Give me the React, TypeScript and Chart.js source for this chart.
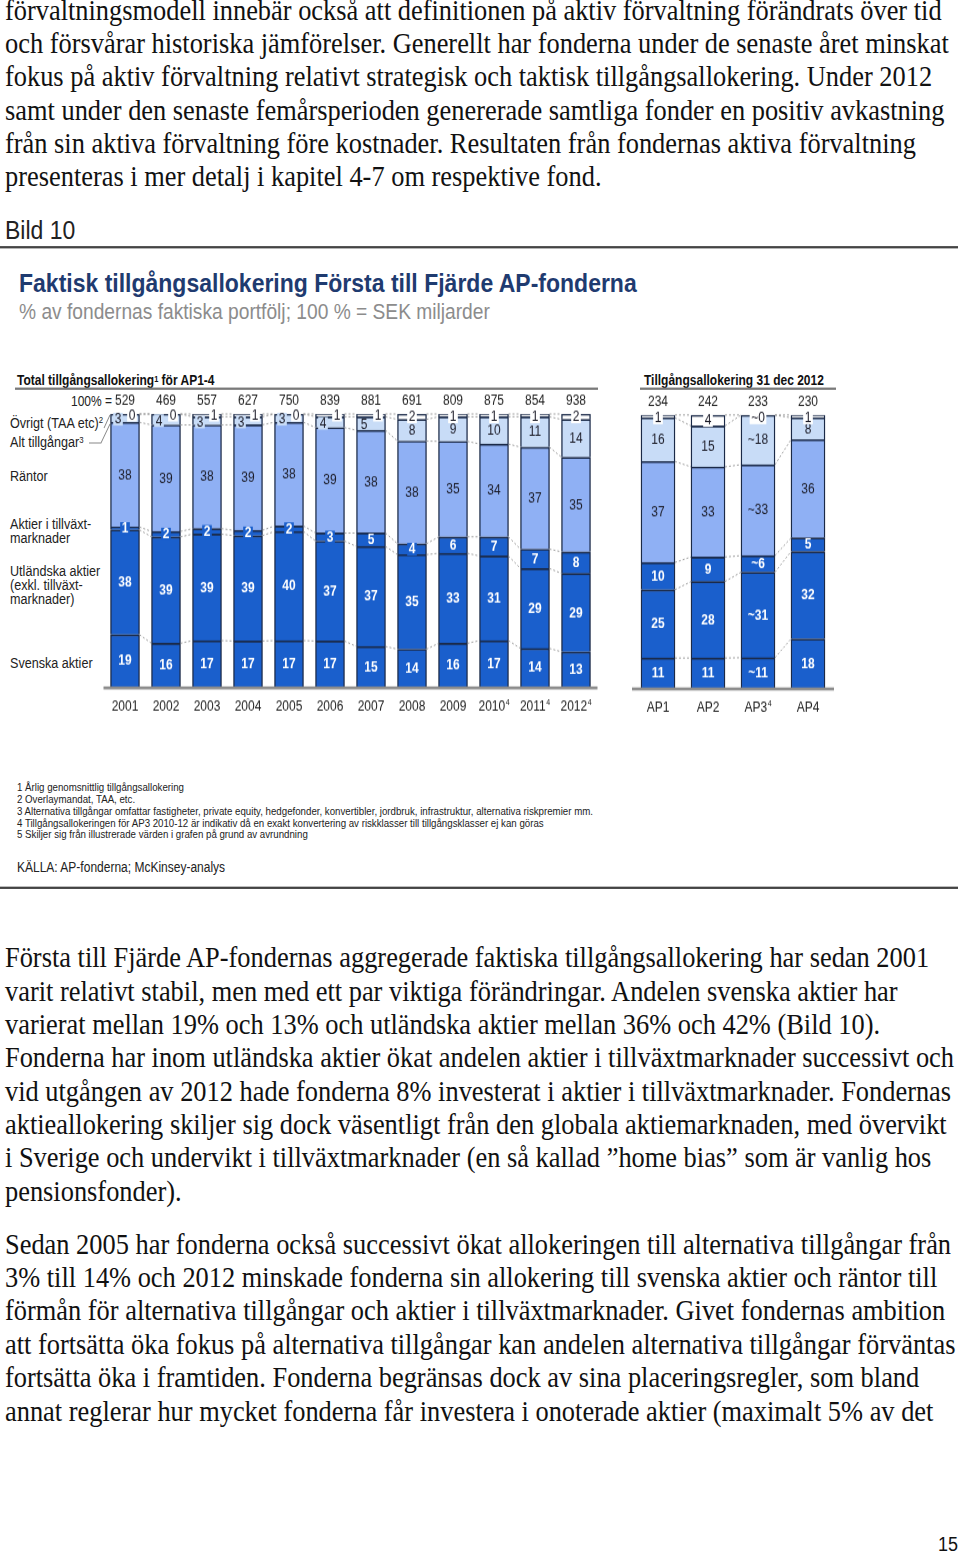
import React, { useEffect, useRef } from 'react';
import { Chart, registerables } from 'chart.js';
Chart.register(...registerables);

// ---------- data ----------
const years = ['2001', '2002', '2003', '2004', '2005', '2006', '2007', '2008', '2009', '2010', '2011', '2012'];
const yearSup = ['', '', '', '', '', '', '', '', '', '4', '4', '4'];
const yearTotals = [529, 469, 557, 627, 750, 839, 881, 691, 809, 875, 854, 938];
const svenska = [19, 16, 17, 17, 17, 17, 15, 14, 16, 17, 14, 13];
const utlandska = [38, 39, 39, 39, 40, 37, 37, 35, 33, 31, 29, 29];
const tillvaxt = [1, 2, 2, 2, 2, 3, 5, 4, 6, 7, 7, 8];
const rantor = [38, 39, 38, 39, 38, 39, 38, 38, 35, 34, 37, 35];
const altTillgangar = [3, 4, 3, 3, 3, 4, 5, 8, 9, 10, 11, 14];
const ovrigt = [0, 0, 1, 1, 0, 1, 1, 2, 1, 1, 1, 2];
const yearPrefix = ['', '', '', '', '', '', '', '', '', '', '', ''];

const funds = ['AP1', 'AP2', 'AP3', 'AP4'];
const fundSup = ['', '', '4', ''];
const fundTotals = [234, 242, 233, 230];
const fSvenska = [11, 11, 11, 18];
const fUtlandska = [25, 28, 31, 32];
const fTillvaxt = [10, 9, 6, 5];
const fRantor = [37, 33, 33, 36];
const fAlt = [16, 15, 18, 8];
const fOvrigt = [1, 4, 0, 1];
const fundPrefix = ['', '', '~', ''];

// ---------- text ----------
const para1 = [
  'förvaltningsmodell innebär också att definitionen på aktiv förvaltning förändrats över tid',
  'och försvårar historiska jämförelser. Generellt har fonderna under de senaste året minskat',
  'fokus på aktiv förvaltning relativt strategisk och taktisk tillgångsallokering. Under 2012',
  'samt under den senaste femårsperioden genererade samtliga fonder en positiv avkastning',
  'från sin aktiva förvaltning före kostnader. Resultaten från fondernas aktiva förvaltning',
  'presenteras i mer detalj i kapitel 4-7 om respektive fond.',
];
const para2 = [
  'Första till Fjärde AP-fondernas aggregerade faktiska tillgångsallokering har sedan 2001',
  'varit relativt stabil, men med ett par viktiga förändringar. Andelen svenska aktier har',
  'varierat mellan 19% och 13% och utländska aktier mellan 36% och 42% (Bild 10).',
  'Fonderna har inom utländska aktier ökat andelen aktier i tillväxtmarknader successivt och',
  'vid utgången av 2012 hade fonderna 8% investerat i aktier i tillväxtmarknader. Fondernas',
  'aktieallokering skiljer sig dock väsentligt från den globala aktiemarknaden, med övervikt',
  'i Sverige och undervikt i tillväxtmarknader (en så kallad ”home bias” som är vanlig hos',
  'pensionsfonder).',
];
const para3 = [
  'Sedan 2005 har fonderna också successivt ökat allokeringen till alternativa tillgångar från',
  '3% till 14% och 2012 minskade fonderna sin allokering till svenska aktier och räntor till',
  'förmån för alternativa tillgångar och aktier i tillväxtmarknader. Givet fondernas ambition',
  'att fortsätta öka fokus på alternativa tillgångar kan andelen alternativa tillgångar förväntas',
  'fortsätta öka i framtiden. Fonderna begränsas dock av sina placeringsregler, som bland',
  'annat reglerar hur mycket fonderna får investera i onoterade aktier (maximalt 5% av det',
];
const footnotes = [
  '1 Årlig genomsnittlig tillgångsallokering',
  '2 Overlaymandat, TAA, etc.',
  '3 Alternativa tillgångar omfattar fastigheter, private equity, hedgefonder, konvertibler, jordbruk, infrastruktur, alternativa riskpremier mm.',
  '4 Tillgångsallokeringen för AP3 2010-12 är indikativ då en exakt konvertering av riskklasser till tillgångsklasser ej kan göras',
  '5 Skiljer sig från illustrerade värden i grafen på grund av avrundning',
];

// ---------- style ----------
const S = 1.15; // vertical stretch of the page
const Y = (v: number) => v / S;
const SANS = '"Liberation Sans", Arial, Helvetica, sans-serif';
const SERIF = '"Liberation Serif", "Times New Roman", serif';
const DARK = '#1a5fcc';
const MID = '#8fb0f4';
const LIGHT = '#c8dcf7';
const WHITE = '#ffffff';
const EDGE = '#1b2a48';
const SEG_COLORS = [DARK, DARK, DARK, MID, LIGHT, WHITE];

type Spec = {
  labels: string[];
  sups: string[];
  totals: number[];
  series: number[][];
  prefixes: string[];
  sideCount: number;
  barThickness: number;
  pad: { left: number; right: number; top: number; bottom: number };
};

function decoPlugin(spec: Spec) {
  return {
    id: 'deco',
    afterDatasetsDraw(chart: any) {
      const ctx = chart.ctx as CanvasRenderingContext2D;
      const area = chart.chartArea;
      const n = spec.labels.length;
      const metas = spec.series.map((_, d) => chart.getDatasetMeta(d));
      // dashed connectors
      ctx.save();
      ctx.strokeStyle = '#8a8a8a';
      ctx.lineWidth = 0.8;
      ctx.setLineDash([2, 2]);
      for (let i = 0; i < n - 1; i++) {
        for (let d = 0; d < metas.length; d++) {
          const a: any = metas[d].data[i];
          const b: any = metas[d].data[i + 1];
          ctx.beginPath();
          ctx.moveTo(a.x + a.width / 2, a.y);
          ctx.lineTo(b.x - b.width / 2, b.y);
          ctx.stroke();
        }
      }
      ctx.restore();
      // axis line
      ctx.save();
      ctx.fillStyle = '#8c8c8c';
      ctx.fillRect(area.left - 1, area.bottom - 0.5, area.right - area.left + 2, 2.6);
      ctx.restore();
      // segment labels
      ctx.save();
      ctx.textAlign = 'center';
      ctx.textBaseline = 'middle';
      for (let d = 0; d < metas.length; d++) {
        for (let i = 0; i < n; i++) {
          const el: any = metas[d].data[i];
          const v = spec.series[d][i];
          const top = el.y;
          const base = el.base;
          const h = base - top;
          const txt = spec.prefixes[i] + v;
          let x = el.x;
          let y = (top + base) / 2;
          const side = i < spec.sideCount;
          if (d === 5) {
            if (side) {
              x = el.x + 7;
              y = top + 1;
            } else if (h < 8) {
              y = top + 2.5;
            }
          } else if (d === 4 && side) {
            x = el.x - 7;
            y = y + 1;
          }
          const dark = d <= 2;
          ctx.font = `${dark ? 'bold ' : ''}12px ${SANS}`;
          const w = ctx.measureText(txt).width;
          if (h < 11 || d === 5) {
            ctx.fillStyle = SEG_COLORS[d];
            ctx.fillRect(x - w / 2 - 1.5, y - 5.5, w + 3, 11);
          }
          ctx.fillStyle = dark ? '#ffffff' : '#1c1c28';
          ctx.fillText(txt, x, y + 0.5);
        }
      }
      // totals and category labels
      const xs: any[] = metas[0].data;
      ctx.fillStyle = '#222222';
      for (let i = 0; i < n; i++) {
        const x = xs[i].x;
        ctx.font = `12px ${SANS}`;
        ctx.textAlign = 'center';
        ctx.fillText(String(spec.totals[i]), x, area.top - Y(13));
        const lab = spec.labels[i];
        const sup = spec.sups[i];
        const wl = ctx.measureText(lab).width;
        ctx.font = `7px ${SANS}`;
        const ws = sup ? ctx.measureText(sup).width + 0.5 : 0;
        const x0 = x - (wl + ws) / 2;
        ctx.textAlign = 'left';
        ctx.font = `12px ${SANS}`;
        ctx.fillText(lab, x0, area.bottom + Y(20));
        if (sup) {
          ctx.font = `7px ${SANS}`;
          ctx.fillText(sup, x0 + wl + 0.5, area.bottom + Y(16));
        }
      }
      ctx.restore();
    },
  };
}

function buildConfig(spec: Spec): any {
  const n = spec.labels.length;
  const sums = Array.from({ length: n }, (_, i) => spec.series.reduce((s, arr) => s + arr[i], 0));
  const names = ['Svenska aktier', 'Utländska aktier', 'Aktier i tillväxtmarknader', 'Räntor', 'Alt tillgångar', 'Övrigt'];
  const datasets = spec.series.map((arr, d) => ({
    label: names[d],
    data: arr.map((v, i) => (v / sums[i]) * 100),
    backgroundColor: SEG_COLORS[d],
    borderColor: EDGE,
    borderWidth: { top: 1.7, left: 1.4, right: 1.4, bottom: 0 },
    borderSkipped: false,
    barThickness: spec.barThickness,
  }));
  return {
    type: 'bar',
    data: { labels: spec.labels, datasets },
    options: {
      animation: false,
      responsive: false,
      maintainAspectRatio: false,
      layout: { padding: spec.pad },
      plugins: { legend: { display: false }, tooltip: { enabled: false } },
      scales: {
        x: { stacked: true, display: false, offset: true, grid: { display: false } },
        y: { stacked: true, display: false, min: 0, max: 100 },
      },
    },
    plugins: [decoPlugin(spec)],
  };
}

const CT = Math.round(Y(360));
const CH = Math.round(Y(730)) - CT;

function Panel({ spec, left, width }: { spec: Spec; left: number; width: number }) {
  const ref = useRef<HTMLCanvasElement>(null);
  useEffect(() => {
    const chart = new Chart(ref.current as HTMLCanvasElement, buildConfig(spec));
    return () => chart.destroy();
  }, []);
  return (
    <canvas
      ref={ref}
      width={width}
      height={CH}
      style={{ position: 'absolute', left, top: CT, width, height: CH }}
    />
  );
}

const leftSpec: Spec = {
  labels: years,
  sups: yearSup,
  totals: yearTotals,
  series: [svenska, utlandska, tillvaxt, rantor, altTillgangar, ovrigt],
  prefixes: yearPrefix,
  sideCount: 7,
  barThickness: 29,
  pad: { left: 104.5, right: 13.5, top: Y(414) - CT, bottom: CT + CH - Y(687) },
};
const rightSpec: Spec = {
  labels: funds,
  sups: fundSup,
  totals: fundTotals,
  series: [fSvenska, fUtlandska, fTillvaxt, fRantor, fAlt, fOvrigt],
  prefixes: fundPrefix,
  sideCount: 0,
  barThickness: 34,
  pad: { left: 13, right: 17, top: Y(415) - CT, bottom: CT + CH - Y(688) },
};

// ---------- helpers ----------
const FS = 26.4;
function SerifLine({ text, base }: { text: string; base: number }) {
  return (
    <div
      style={{
        position: 'absolute',
        left: 5,
        top: Y(base) - 0.8375 * FS,
        fontFamily: SERIF,
        fontSize: FS,
        lineHeight: `${FS}px`,
        whiteSpace: 'nowrap',
        color: '#111',
      }}
    >
      {text}
    </div>
  );
}

function T({
  x, y, size, bold, color, children, align, w,
}: {
  x: number; y: number; size: number; bold?: boolean; color?: string; children: any; align?: 'left' | 'right'; w?: number;
}) {
  return (
    <div
      style={{
        position: 'absolute',
        left: x,
        top: Y(y) - size / 2,
        width: w,
        textAlign: align || 'left',
        fontFamily: SANS,
        fontSize: size,
        lineHeight: `${size}px`,
        fontWeight: bold ? 'bold' : 'normal',
        color: color || '#222',
        whiteSpace: 'nowrap',
      }}
    >
      {children}
    </div>
  );
}

const Sup = ({ c }: { c: string }) => (
  <span style={{ fontSize: '0.62em', position: 'relative', top: '-0.45em' }}>{c}</span>
);

function HLine({ x1, x2, y, h, color }: { x1: number; x2: number; y: number; h: number; color: string }) {
  return <div style={{ position: 'absolute', left: x1, width: x2 - x1, top: Y(y) - h / 2, height: h, background: color }} />;
}

export default function App() {
  return (
    <div
      style={{
        position: 'absolute',
        left: 0,
        top: 0,
        width: 960,
        height: 1556 / S,
        transform: `scaleY(${S})`,
        transformOrigin: '0 0',
        background: '#fff',
        overflow: 'hidden',
      }}
    >
      {para1.map((t, k) => (
        <SerifLine key={'a' + k} text={t} base={20 + 33.4 * k} />
      ))}

      <T x={5} y={230} size={23}>Bild 10</T>
      <HLine x1={0} x2={958} y={247} h={1.5} color="#444" />

      <T x={19} y={284} size={23} bold color="#1f3b70">
        Faktisk tillgångsallokering Första till Fjärde AP-fonderna
      </T>
      <T x={19} y={311} size={19.2} color="#8c8c8c">
        % av fondernas faktiska portfölj; 100 % = SEK miljarder
      </T>

      <T x={17} y={381} size={12} bold color="#111">
        Total tillgångsallokering<Sup c="1" /> för AP1-4
      </T>
      <HLine x1={15} x2={598} y={389} h={2} color="#7a7a7a" />
      <T x={644} y={381} size={12} bold color="#111">
        Tillgångsallokering 31 dec 2012
      </T>
      <HLine x1={640} x2={836} y={389} h={2} color="#7a7a7a" />

      <T x={0} w={112} align="right" y={401} size={12}>100% =</T>
      <T x={10} y={423} size={12.6}>Övrigt (TAA etc)<Sup c="2" /></T>
      <T x={10} y={443} size={12.6}>Alt tillgångar<Sup c="3" /></T>
      <T x={10} y={477} size={12.6}>Räntor</T>
      <T x={10} y={525} size={12.6}>Aktier i tillväxt-</T>
      <T x={10} y={539} size={12.6}>marknader</T>
      <T x={10} y={572} size={12.6}>Utländska aktier</T>
      <T x={10} y={586} size={12.6}>(exkl. tillväxt-</T>
      <T x={10} y={600} size={12.6}>marknader)</T>
      <T x={10} y={664} size={12.6}>Svenska aktier</T>

      <svg
        width={960}
        height={1556 / S}
        viewBox="0 0 960 1556"
        preserveAspectRatio="none"
        style={{ position: 'absolute', left: 0, top: 0 }}
      >
        <polyline points="104,428 110,415" fill="none" stroke="#888" strokeWidth={0.9} vectorEffect="non-scaling-stroke" />
        <polyline points="89,443 101,443 110,424" fill="none" stroke="#888" strokeWidth={0.9} vectorEffect="non-scaling-stroke" />
      </svg>

      <Panel spec={leftSpec} left={0} width={610} />
      <Panel spec={rightSpec} left={620} width={230} />

      {footnotes.map((t, k) => (
        <T key={'f' + k} x={17} y={788 + 11.6 * k} size={9.7} color="#222">{t}</T>
      ))}
      <T x={17} y={867} size={12} color="#222">KÄLLA: AP-fonderna; McKinsey-analys</T>
      <HLine x1={0} x2={958} y={888} h={1.5} color="#444" />

      {para2.map((t, k) => (
        <SerifLine key={'b' + k} text={t} base={967 + 33.4 * k} />
      ))}
      {para3.map((t, k) => (
        <SerifLine key={'c' + k} text={t} base={1254 + 33.4 * k} />
      ))}

      <T x={938} y={1545} size={18} color="#111">15</T>
    </div>
  );
}
